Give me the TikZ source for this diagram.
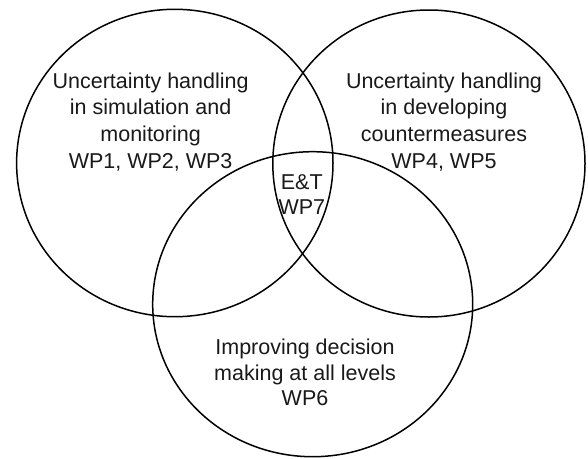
\documentclass[tikz,border=0pt]{standalone}
\usepackage{fontspec}
\setmainfont{Liberation Sans}
\begin{document}
\begin{tikzpicture}[x=1pt,y=-1pt,
  ring/.style={draw=black,line width=1.5pt},
  label/.style={inner sep=0pt,align=center,text=black!90}]
\useasboundingbox (0,0) rectangle (588,458);
\fill[white] (0,0) rectangle (588,458);
\coordinate (cL) at (174.8,163);
\coordinate (cR) at (428.9,163.5);
\coordinate (cB) at (312.7,304.2);
\draw[ring] (cL) ellipse [x radius=158.2, y radius=153.7];
\draw[ring] (cR) ellipse [x radius=156.1, y radius=153.5];
\draw[ring] (cB) ellipse [x radius=160, y radius=152.5];
\node[label,font=\fontsize{21.5}{26.7}\selectfont] (tL) at (150.6,121.7)
  {Uncertainty handling\\in simulation and\\monitoring\\WP1, WP2, WP3};
\node[label,font=\fontsize{21.5}{26.7}\selectfont] (tR) at (444,121.7)
  {Uncertainty handling\\in developing\\countermeasures\\WP4, WP5};
\node[label,font=\fontsize{21.5}{25}\selectfont] (tC) at (301.8,194.2)
  {E\&T\\WP7};
\node[label,font=\fontsize{21.5}{25.8}\selectfont] (tB) at (305,372.5)
  {Improving decision\\making at all levels\\WP6};
\end{tikzpicture}
\end{document}
